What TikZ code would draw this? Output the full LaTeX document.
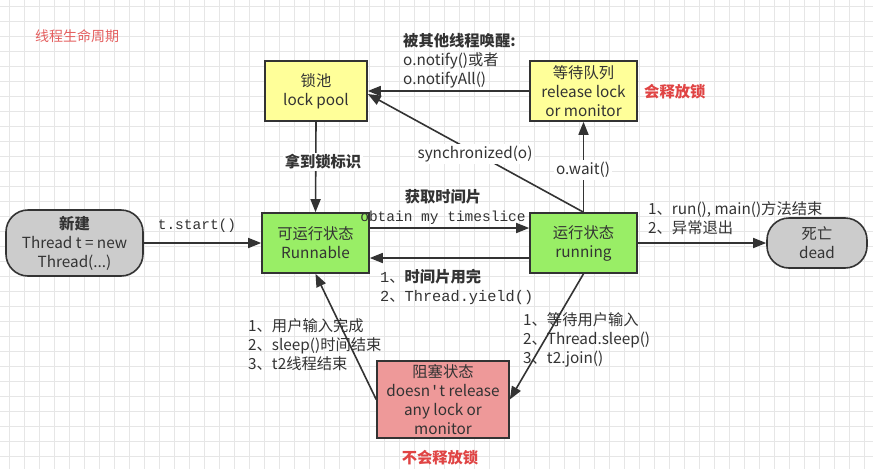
\documentclass[tikz,border=0pt]{standalone}
\usepackage{fontspec}
\setmainfont{Noto Sans CJK SC}
\newfontfamily\codefont{Liberation Mono}
\usetikzlibrary{arrows.meta}
\definecolor{lockyellow}{HTML}{FFFF99}
\definecolor{rungreen}{HTML}{99EE66}
\definecolor{blockred}{HTML}{EE9999}
\definecolor{deadgray}{HTML}{CCCCCC}
\definecolor{edgegray}{HTML}{333333}
\definecolor{notered}{HTML}{E04444}
\definecolor{gridgray}{HTML}{E6E6E6}
\tikzstyle{thbox}=[draw=edgegray, line width=1.6pt, text=edgegray, align=center, inner sep=0pt, font=\fontsize{15.3}{19}\selectfont]
\tikzstyle{poolbox}=[thbox, fill=lockyellow, minimum height=60pt]
\tikzstyle{runbox}=[thbox, fill=rungreen, minimum width=107pt, minimum height=60pt]
\tikzstyle{blockbox}=[thbox, fill=blockred, minimum width=132pt, minimum height=77pt]
\tikzstyle{endbox}=[thbox, fill=deadgray, rounded corners=22pt]
\tikzstyle{arr}=[draw=edgegray, line width=1.6pt, -{Triangle[length=13pt,width=10pt]}]
\tikzstyle{lbl}=[text=edgegray, inner sep=0pt, align=left, font=\fontsize{15.3}{19}\selectfont]
\tikzstyle{codelbl}=[lbl, font=\codefont\fontsize{14.5}{19}\selectfont]
\tikzstyle{onlbl}=[lbl, fill=white, inner sep=2pt]
\tikzstyle{redlbl}=[text=notered, inner sep=0pt, font=\fontsize{15.3}{19}\selectfont\bfseries]
\tikzstyle{gridline}=[gridgray, line width=0.6pt]

\begin{document}
\begin{tikzpicture}[x=1pt,y=-1pt]
		\useasboundingbox[fill=white] (0,0) rectangle (873,469);
		\foreach \gx in {9,24,...,864} \draw[gridline] (\gx,0) -- (\gx,469);
		\foreach \gy in {6,21,...,461} \draw[gridline] (0,\gy) -- (873,\gy);
		
		\node[text=notered!85, inner sep=0pt, font=\fontsize{14}{18}\selectfont] (title) at (77,36) {线程生命周期};
		
		\node[poolbox, minimum width=102pt] (lockpool) at (316,91) {锁池\\lock pool};
		\node[poolbox, minimum width=107pt] (waitq) at (583.5,91) {等待队列\\release lock\\or monitor};
		\node[runbox] (runnable) at (315.5,243) {可运行状态\\Runnable};
		\node[runbox] (running) at (583.5,243) {运行状态\\running};
		\node[endbox, minimum width=137pt, minimum height=66pt] (newth) at (74.5,243) {\bfseries 新建\\Thread t = new\\Thread(...)};
		\node[endbox, minimum width=100pt, minimum height=50pt] (dead) at (817,243) {死亡\\dead};
		\node[blockbox] (blocked) at (443,399.5) {阻塞状态\\doesn{\codefont '}t release\\any lock or\\monitor};
		
		\draw[arr] (waitq.west) -- (lockpool.east);
		\draw[arr] (running.north) -- ([yshift=-3pt]lockpool.east);
		\draw[arr] (running.north) -- (waitq.south);
		\draw[arr] (lockpool.south) -- (runnable.north);
		\draw[arr] (newth.east) -- (runnable.west);
		\draw[arr] ([yshift=15pt]runnable.east) -- ([yshift=15pt]running.west);
		\draw[arr] ([yshift=-15pt]running.west) -- ([yshift=-15pt]runnable.east);
		\draw[arr] (running.east) -- (dead.west);
		\draw[arr] (running.south) -- (blocked.east);
		\draw[arr] (blocked.west) -- (runnable.south);
		
		\node[lbl, anchor=west] (notifylbl) at (403,61) {\bfseries 被其他线程唤醒:\\o.notify()或者\\o.notifyAll()};
		\node[redlbl, anchor=west] (releaselbl) at (644,92) {会释放锁};
		\node[onlbl, font=\fontsize{15.3}{19}\selectfont\bfseries] (locklbl) at (323,162) {拿到锁标识};
		\node[onlbl] (synclbl) at (475,154) {synchronized(o)};
		\node[onlbl] (waitlbl) at (583,170) {o.wait()};
		\node[codelbl] (startlbl) at (197,226) {t.start()};
		\node[lbl, font=\fontsize{15.3}{19}\selectfont\bfseries] (slicelbl) at (443,197) {获取时间片};
		\node[codelbl] (obtainlbl) at (443,218) {obtain my timeslice};
		\node[lbl, anchor=west] (yieldlbl) at (380,287) {{\codefont 1}、\textbf{时间片用完}\\{\codefont 2}、{\codefont Thread.yield()}};
		\node[lbl, anchor=west] (endlbl) at (648,218) {1、run(), main()方法结束\\2、异常退出};
		\node[lbl, anchor=west] (wakelbl) at (248,345) {1、用户输入完成\\2、sleep()时间结束\\3、t2线程结束};
		\node[lbl, anchor=west] (sleeplbl) at (523,340) {1、等待用户输入\\2、Thread.sleep()\\3、t2.join()};
		\node[redlbl] (keeplbl) at (440,458) {不会释放锁};
\end{tikzpicture}
\end{document}
